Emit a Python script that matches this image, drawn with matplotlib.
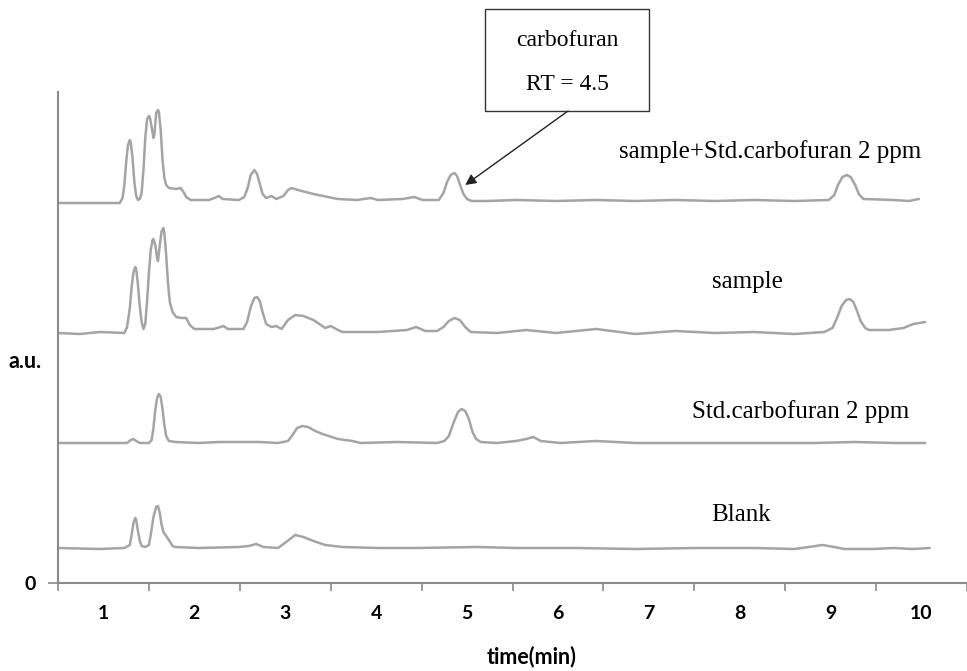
import matplotlib
matplotlib.use("Agg")
import matplotlib.pyplot as plt
from matplotlib.patches import Rectangle

# ---------------- data (time in min, signal in a.u.) ----------------
t_spiked = [0.50, 1.18, 1.21, 1.23, 1.25, 1.27, 1.29, 1.30, 1.32, 1.34, 1.36, 1.38, 1.40, 1.42,
            1.44, 1.46, 1.48, 1.50, 1.51, 1.53, 1.55, 1.56, 1.58, 1.60, 1.61, 1.63, 1.65, 1.67,
            1.69, 1.72, 1.80, 1.85, 1.88, 1.91, 1.96, 2.16, 2.22, 2.27, 2.31, 2.49, 2.55, 2.59,
            2.62, 2.66, 2.69, 2.72, 2.75, 2.79, 2.85, 2.90, 2.98, 3.03, 3.07, 3.14, 3.31, 3.47,
            3.58, 3.79, 3.94, 4.02, 4.29, 4.42, 4.51, 4.69, 4.74, 4.78, 4.82, 4.86, 4.89, 4.92,
            4.96, 5.00, 5.05, 5.22, 5.54, 5.98, 6.42, 6.85, 7.29, 7.73, 8.16, 8.60, 8.98, 9.04,
            9.08, 9.13, 9.18, 9.22, 9.27, 9.31, 9.36, 9.69, 9.86, 9.97]
s_spiked = [380, 380, 385, 398, 421, 438, 443, 441, 425, 401, 387, 383, 384, 390,
            413, 445, 464, 467, 466, 456, 445, 448, 470, 473, 471, 453, 423, 405,
            398, 395, 394, 395, 391, 386, 383, 383, 385, 387, 384, 383, 386, 396,
            408, 413, 409, 399, 389, 385, 387, 384, 387, 393, 395, 393, 389, 386,
            384, 383, 385, 383, 384, 386, 383, 383, 390, 401, 408, 410, 407, 399,
            389, 384, 382, 382, 383, 382, 383, 382, 383, 382, 383, 382, 383, 388,
            398, 406, 408, 406, 398, 389, 384, 383, 382, 384]

t_sample = [0.50, 0.74, 0.96, 1.23, 1.26, 1.29, 1.31, 1.33, 1.35, 1.36, 1.38, 1.40, 1.42, 1.44,
            1.46, 1.48, 1.50, 1.52, 1.54, 1.55, 1.57, 1.59, 1.60, 1.62, 1.64, 1.66, 1.67, 1.69,
            1.71, 1.73, 1.76, 1.80, 1.86, 1.91, 1.95, 2.00, 2.21, 2.29, 2.32, 2.37, 2.54, 2.58,
            2.62, 2.66, 2.69, 2.72, 2.75, 2.79, 2.85, 2.90, 2.96, 3.03, 3.11, 3.20, 3.31, 3.44,
            3.50, 3.58, 3.63, 4.02, 4.34, 4.44, 4.54, 4.67, 4.74, 4.80, 4.86, 4.92, 4.98, 5.04,
            5.33, 5.65, 5.98, 6.42, 6.85, 7.29, 7.73, 8.16, 8.60, 8.93, 9.02, 9.07, 9.12, 9.17,
            9.21, 9.25, 9.29, 9.33, 9.38, 9.42, 9.64, 9.80, 9.91, 10.04]
s_sample = [250, 249, 251, 250, 256, 275, 296, 311, 316, 314, 298, 276, 261, 254,
            259, 282, 310, 333, 343, 344, 338, 325, 322, 338, 352, 355, 350, 328,
            300, 281, 271, 266, 265, 265, 258, 254, 254, 256, 257, 254, 254, 261,
            276, 285, 286, 282, 271, 259, 256, 257, 254, 263, 268, 267, 263, 255,
            257, 253, 251, 251, 253, 256, 252, 252, 256, 262, 265, 263, 256, 251,
            250, 253, 250, 254, 249, 252, 250, 251, 249, 251, 255, 265, 277, 283,
            284, 281, 272, 262, 255, 253, 253, 255, 259, 261]

t_std = [0.50, 0.96, 1.26, 1.30, 1.33, 1.36, 1.40, 1.50, 1.53, 1.55, 1.57, 1.59, 1.61, 1.63,
         1.65, 1.67, 1.69, 1.72, 1.79, 2.05, 2.27, 2.71, 2.92, 3.03, 3.08, 3.13, 3.19, 3.25,
         3.33, 3.41, 3.58, 3.74, 3.83, 4.23, 4.67, 4.75, 4.80, 4.85, 4.90, 4.94, 4.98, 5.02,
         5.06, 5.10, 5.15, 5.33, 5.54, 5.65, 5.73, 5.81, 6.03, 6.42, 6.85, 7.51, 8.16, 8.82,
         9.26, 9.69, 10.04]
s_std = [140, 140, 140, 143, 144, 142, 140, 140, 143, 155, 173, 185, 189, 186,
         174, 158, 147, 142, 141, 140, 141, 141, 140, 142, 148, 155, 157, 156,
         152, 149, 144, 142, 140, 141, 140, 142, 147, 160, 171, 174, 172, 164,
         151, 144, 141, 140, 142, 144, 146, 142, 140, 142, 140, 140, 140, 140,
         141, 140, 140]

t_blank = [0.50, 0.96, 1.23, 1.29, 1.31, 1.33, 1.35, 1.36, 1.38, 1.40, 1.42, 1.46, 1.50, 1.52,
           1.55, 1.58, 1.60, 1.62, 1.64, 1.66, 1.69, 1.72, 1.76, 1.79, 2.05, 2.49, 2.60, 2.68,
           2.76, 2.92, 3.01, 3.11, 3.20, 3.31, 3.44, 3.63, 4.02, 4.45, 5.11, 5.54, 6.20, 6.85,
           7.51, 8.16, 8.60, 8.76, 8.91, 9.04, 9.15, 9.47, 9.69, 9.91, 10.09]
s_blank = [35, 34, 35, 38, 48, 60, 65, 63, 52, 42, 37, 36, 38, 48,
           66, 76, 77, 70, 58, 51, 47, 43, 37, 36, 35, 36, 37, 39,
           36, 35, 41, 48, 46, 42, 38, 36, 35, 35, 36, 35, 35, 34,
           35, 35, 34, 36, 38, 36, 34, 34, 35, 34, 35]

trace_labels = ["sample+Std.carbofuran 2 ppm", "sample", "Std.carbofuran 2 ppm", "Blank"]
label_pos = [(8.33, 431), (8.08, 301), (8.67, 171), (8.01, 68)]
x_tick_labels = ["1", "2", "3", "4", "5", "6", "7", "8", "9", "10"]
box_lines = ["carbofuran", "RT = 4.5"]
arrow_target = (4.98, 398)

# ---------------- figure ----------------
W, H = 967, 671
fig = plt.figure(figsize=(W / 100, H / 100), dpi=100)
ax = fig.add_axes([58 / W, (H - 583) / H, (W - 58) / W, (583 - 92) / H])

line_kw = dict(color="#a4a4a4", lw=1.8, solid_joinstyle="round", solid_capstyle="round")
for t, s in [(t_spiked, s_spiked), (t_sample, s_sample), (t_std, s_std), (t_blank, s_blank)]:
    ax.plot(t, s, **line_kw)

ax.set_xlim(0.5, 0.5 + (W - 58) / 91.6)
ax.set_ylim(0, 491)

axis_col = "#8a8a8a"
for side in ["top", "right"]:
    ax.spines[side].set_visible(False)
for side in ["left", "bottom"]:
    ax.spines[side].set_color(axis_col)
    ax.spines[side].set_linewidth(1.5)

tick_font = dict(family=["Lato", "DejaVu Sans"], weight="bold", size=14)
title_font = dict(family=["Lato", "DejaVu Sans"], weight="bold", size=15.5)

ax.set_xticks([i + 0.5 for i in range(0, 11)])
ax.set_xticklabels([])
ax.set_xticks([i + 1 for i in range(10)], minor=True)
ax.set_xticklabels(x_tick_labels, minor=True, fontdict=tick_font)
ax.tick_params(axis="x", which="major", length=6, width=1.2, color=axis_col, direction="out")
ax.tick_params(axis="x", which="minor", length=0, pad=16)

ax.set_yticks([0])
ax.set_yticklabels(["0"], fontdict=tick_font)
ax.tick_params(axis="y", length=7, width=1.2, color=axis_col, pad=9)

fig.text(25 / W, 1 - 362 / H, "a.u.", ha="center", va="center", **title_font)
fig.text(532 / W, 1 - 657 / H, "time(min)", ha="center", va="center", **title_font)

serif = dict(family=["Liberation Serif", "DejaVu Serif"], size=18)
for lab, (x, y) in zip(trace_labels, label_pos):
    ax.text(x, y, lab, ha="center", va="center", **serif)

# annotation box
box_font = dict(family=["Liberation Serif", "DejaVu Serif"], size=17)
fig.patches.append(Rectangle((485 / W, 1 - 111 / H), 164 / W, 102 / H,
                             transform=fig.transFigure, fill=False,
                             edgecolor="#333333", lw=1.0))
fig.text(567 / W, 1 - 40 / H, box_lines[0], ha="center", va="center", **box_font)
fig.text(567 / W, 1 - 85 / H, box_lines[1], ha="center", va="center", **box_font)
ax.annotate("", xy=arrow_target, xycoords="data",
            xytext=(568, H - 111), textcoords="figure pixels",
            arrowprops=dict(arrowstyle="-|>", color="#222222", lw=1.0,
                            mutation_scale=16, shrinkA=0, shrinkB=0))

fig.savefig("out.png", dpi=100)
